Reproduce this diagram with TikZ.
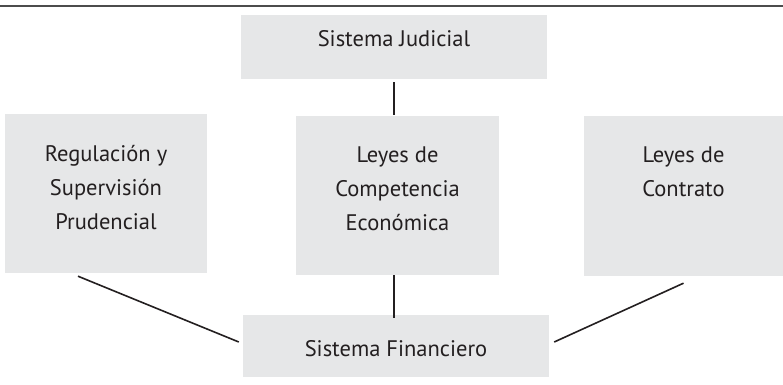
\documentclass[tikz,border=0pt]{standalone}
\usepackage{fontspec}
\setmainfont{PT Sans}
\usetikzlibrary{positioning, calc}

\definecolor{cajagris}{HTML}{E6E7E8}
\definecolor{lineagris}{HTML}{231F20}

\begin{document}
\begin{tikzpicture}[
        x=1pt, y=1pt,
        caja/.style={rectangle, fill=cajagris, inner sep=0pt},
        texto/.style={inner sep=0pt, align=center, font=\fontsize{22.5}{32}\selectfont, text=lineagris},
        enlace/.style={draw=lineagris, line width=1.6pt},
    ]
        \useasboundingbox (0,0) rectangle (783,384);

        % Top rule
        \coordinate (R-a) at (0,378);
        \coordinate (R-b) at (783,378);
        \draw[draw=black!70, line width=1.8pt] (R-a) -- (R-b);

        % Draw the boxes
        \node[caja, minimum width=306, minimum height=64] (jud) at (394,337) {};
        \node[caja, minimum width=202, minimum height=159] (reg) at (106,190.5) {};
        \node[caja, minimum width=203, minimum height=159] (comp) at (397.5,188.5) {};
        \node[caja, minimum width=199, minimum height=160] (cont) at (683.5,188) {};
        \node[caja, minimum width=306, minimum height=62] (fin) at (396,38) {};

        % Texts of the boxes
        \node[texto, anchor=base] (jud-t) at ([yshift=-32]jud.north) {Sistema Judicial};
        \node[texto, anchor=base] (fin-t) at ([yshift=-42]fin.north) {Sistema Financiero};
        \foreach \name / \txt in {reg/{Regulación y\\[2pt]Supervisión\\[2pt]Prudencial},
                                  comp/{Leyes de\\[2pt]Competencia\\[2pt]Económica},
                                  cont/{Leyes de\\[2pt]Contrato}}
            \node[texto, anchor=north] (\name-t) at ([yshift=-31]\name.north) {\txt};

        % Connect the boxes
        \draw[enlace] ([yshift=-3]jud.south) -- ([yshift=1]jud.south |- comp.north);
        \draw[enlace] (comp.south -| jud.south) -- ([yshift=-3]fin.north -| jud.south);
        \draw[enlace] ([shift={(-28,-3)}]reg.south) -- ([shift={(-4,4)}]fin.west);
        \draw[enlace] ([yshift=-7]cont.south) -- ([shift={(5,4)}]fin.east);
\end{tikzpicture}
\end{document}
